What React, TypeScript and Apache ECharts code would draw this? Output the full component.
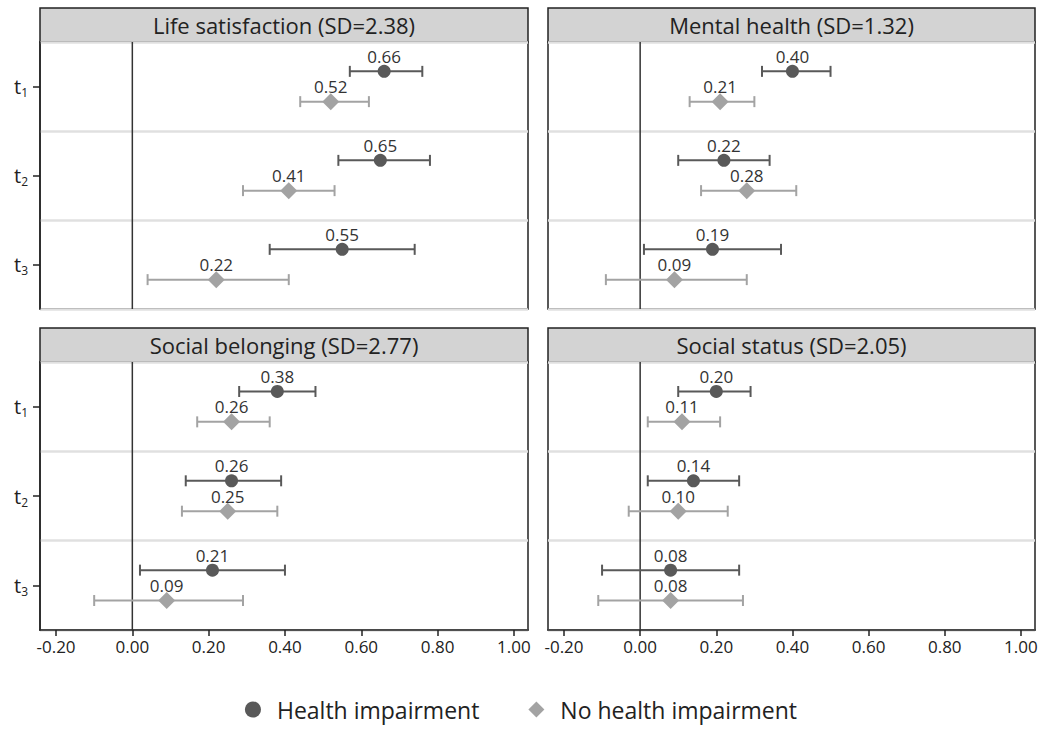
import React, { useEffect, useRef } from "react";
import * as echarts from "echarts";

// ---- data ----
const timePoints = ["t1", "t2", "t3"];
const panelTitles = [
  "Life satisfaction (SD=2.38)",
  "Mental health (SD=1.32)",
  "Social belonging (SD=2.77)",
  "Social status (SD=2.05)",
];
const seriesNames = ["Health impairment", "No health impairment"];
const xTicks = [-0.2, 0, 0.2, 0.4, 0.6, 0.8, 1.0];
const referenceValue = 0;

// [estimate, lower CI, upper CI] per time point
const lifeHealth = [[0.66, 0.57, 0.76], [0.65, 0.54, 0.78], [0.55, 0.36, 0.74]];
const lifeNoHealth = [[0.52, 0.44, 0.62], [0.41, 0.29, 0.53], [0.22, 0.04, 0.41]];
const mentalHealth = [[0.40, 0.32, 0.50], [0.22, 0.10, 0.34], [0.19, 0.01, 0.37]];
const mentalNoHealth = [[0.21, 0.13, 0.30], [0.28, 0.16, 0.41], [0.09, -0.09, 0.28]];
const belongHealth = [[0.38, 0.28, 0.48], [0.26, 0.14, 0.39], [0.21, 0.02, 0.40]];
const belongNoHealth = [[0.26, 0.17, 0.36], [0.25, 0.13, 0.38], [0.09, -0.10, 0.29]];
const statusHealth = [[0.20, 0.10, 0.29], [0.14, 0.02, 0.26], [0.08, -0.10, 0.26]];
const statusNoHealth = [[0.11, 0.02, 0.21], [0.10, -0.03, 0.23], [0.08, -0.11, 0.27]];

const panelData = [
  [lifeHealth, lifeNoHealth],
  [mentalHealth, mentalNoHealth],
  [belongHealth, belongNoHealth],
  [statusHealth, statusNoHealth],
];

const FONT = "'Open Sans', 'Noto Sans', sans-serif";
const COLORS = ["#595959", "#a3a3a3"];
const OFFSETS = [-0.17, 0.17];

const grids = [
  { left: 40, top: 42, width: 488, height: 267 },
  { left: 548, top: 42, width: 487, height: 267 },
  { left: 40, top: 362, width: 488, height: 268 },
  { left: 548, top: 362, width: 487, height: 268 },
];

function makeRenderItem(group: number) {
  return (params: any, api: any) => {
    const est = api.value(0);
    const lo = api.value(1);
    const hi = api.value(2);
    const cat = api.value(3);
    const c = api.coord([est, cat]);
    const band = api.size([0, 1])[1];
    const y = c[1] + OFFSETS[group] * band;
    const xLo = api.coord([lo, cat])[0];
    const xHi = api.coord([hi, cat])[0];
    const color = COLORS[group];
    const lineStyle = { stroke: color, lineWidth: 2 };
    const cap = 5.5;
    const children: any[] = [
      { type: "line", shape: { x1: xLo, y1: y, x2: xHi, y2: y }, style: lineStyle },
      { type: "line", shape: { x1: xLo, y1: y - cap, x2: xLo, y2: y + cap }, style: lineStyle },
      { type: "line", shape: { x1: xHi, y1: y - cap, x2: xHi, y2: y + cap }, style: lineStyle },
    ];
    if (group === 0) {
      children.push({ type: "circle", shape: { cx: c[0], cy: y, r: 6.5 }, style: { fill: color } });
    } else {
      const d = 8.5;
      children.push({
        type: "polygon",
        shape: { points: [[c[0], y - d], [c[0] + d, y], [c[0], y + d], [c[0] - d, y]] },
        style: { fill: color },
      });
    }
    children.push({
      type: "text",
      x: c[0],
      y: y - 15,
      style: {
        text: est.toFixed(2),
        align: "center",
        verticalAlign: "middle",
        fontSize: 17,
        fontFamily: FONT,
        fill: "#333",
      },
    });
    return { type: "group", children };
  };
}

function zeroLineRender(params: any, api: any) {
  const cs = params.coordSys;
  const x = api.coord([api.value(0), 0])[0];
  return {
    type: "line",
    shape: { x1: x, y1: cs.y, x2: x, y2: cs.y + cs.height },
    style: { stroke: "#333", lineWidth: 1.5 },
  };
}

export default function App() {
  const ref = useRef<HTMLDivElement>(null);
  useEffect(() => {
    if (!ref.current) return;
    const chart = echarts.init(ref.current, undefined, { renderer: "svg" });

    const xAxis = grids.map((_, i) => ({
      type: "value",
      gridIndex: i,
      min: -0.242,
      max: 1.037,
      splitLine: { show: false },
      axisLine: { show: i >= 2, onZero: false, lineStyle: { color: "#222", width: 1.5 } },
      axisTick: {
        show: i >= 2,
        length: 6,
        customValues: xTicks,
        lineStyle: { color: "#222", width: 1.5 },
      },
      axisLabel: {
        show: i >= 2,
        customValues: xTicks,
        formatter: (v: number) => v.toFixed(2),
        fontSize: 17,
        fontFamily: FONT,
        color: "#222",
        margin: 8,
      },
    }));

    const yAxis = grids.map((_, i) => ({
      type: "category",
      gridIndex: i,
      data: timePoints,
      inverse: true,
      boundaryGap: true,
      axisLine: { show: i % 2 === 0, onZero: false, lineStyle: { color: "#222", width: 1.5 } },
      axisTick: {
        show: i % 2 === 0,
        alignWithLabel: true,
        length: 7,
        lineStyle: { color: "#222", width: 1.5 },
      },
      splitLine: { show: true, lineStyle: { color: "#e0e0e0", width: 2.5 } },
      axisLabel: {
        show: i % 2 === 0,
        margin: 12,
        formatter: (v: string) => `{t|t}{s|${v.slice(1)}}`,
        rich: {
          t: { fontSize: 20, fontFamily: FONT, color: "#222" },
          s: { fontSize: 12, fontFamily: FONT, color: "#222", padding: [12, 0, 0, 0] },
        },
      },
    }));

    const series: any[] = [];
    panelData.forEach((groups, p) => {
      series.push({
        type: "custom",
        name: "zero",
        xAxisIndex: p,
        yAxisIndex: p,
        renderItem: zeroLineRender,
        encode: { x: 0 },
        data: [[referenceValue]],
        silent: true,
        z: 1,
      });
      groups.forEach((rows, g) => {
        series.push({
          type: "custom",
          name: seriesNames[g],
          xAxisIndex: p,
          yAxisIndex: p,
          itemStyle: { color: COLORS[g] },
          renderItem: makeRenderItem(g),
          encode: { x: [0, 1, 2], y: 3 },
          data: rows.map((r, k) => [r[0], r[1], r[2], k]),
          z: 3,
        });
      });
    });

    const graphic: any[] = [];
    grids.forEach((g, i) => {
      const top = g.top - 34;
      graphic.push({
        type: "rect",
        shape: { x: g.left, y: top, width: g.width, height: 34 },
        style: { fill: "#d3d3d3", stroke: "#222", lineWidth: 1.5 },
      });
      graphic.push({
        type: "text",
        x: g.left + g.width / 2,
        y: top + 17,
        style: {
          text: panelTitles[i],
          align: "center",
          verticalAlign: "middle",
          fontSize: 22,
          fontFamily: FONT,
          fill: "#222",
        },
      });
    });

    chart.setOption({
      animation: false,
      backgroundColor: "#fff",
      grid: grids.map((g) => ({ ...g, show: true, borderColor: "#222", borderWidth: 1.5, backgroundColor: "transparent" })),
      xAxis,
      yAxis,
      series,
      graphic,
      legend: {
        data: [
          { name: seriesNames[0], icon: "circle" },
          { name: seriesNames[1], icon: "diamond" },
        ],
        top: 698,
        left: "center",
        padding: 0,
        itemWidth: 16,
        itemHeight: 16,
        itemGap: 49,
        textStyle: { fontSize: 23, fontFamily: FONT, color: "#222", padding: [0, 0, 0, 11] },
      },
    });
    return () => chart.dispose();
  }, []);
  return <div ref={ref} style={{ width: 1042, height: 729, position: "absolute", left: 0, top: 0 }} />;
}
